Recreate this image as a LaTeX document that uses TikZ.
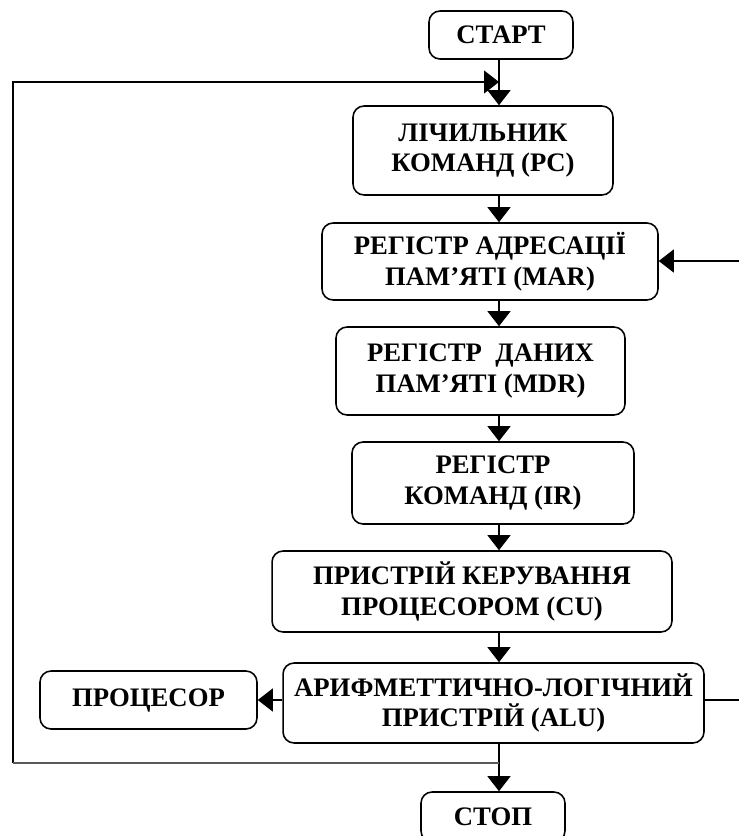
\documentclass[tikz,border=0pt]{standalone}
\usepackage{fontspec}
\setmainfont{Liberation Serif}
\usetikzlibrary{arrows.meta}
\tikzstyle{blk}=[draw,rounded corners=0.22cm,line width=0.9pt,align=center,inner sep=0,font=\bfseries\fontsize{15.2}{17.5}\selectfont]
\tikzstyle{arr}=[-{Triangle[length=0.3cm,width=0.46cm]},line width=0.6pt]

\begin{document}
\begin{tikzpicture}[x=0.02cm,y=-0.02cm]
	\useasboundingbox (0,0) rectangle (739,836);
	\clip (0,0) rectangle (739,836);

                        \node[blk,minimum width=2.88cm,minimum height=0.96cm] (st) at (501,35) {СТАРТ};
                        \node[blk,minimum width=5.2cm,minimum height=1.78cm] (pc) at (483,150.5) {ЛІЧИЛЬНИК\\КОМАНД (PC)};
                        \node[blk,minimum width=6.72cm,minimum height=1.54cm] (mar) at (490,261.5) {РЕГІСТР АДРЕСАЦІЇ\\ПАМ’ЯТІ (MAR)};
                        \node[blk,minimum width=5.78cm,minimum height=1.76cm] (mdr) at (480.5,371) {РЕГІСТР\ \ ДАНИХ\\ПАМ’ЯТІ (MDR)};
                        \node[blk,minimum width=5.64cm,minimum height=1.64cm] (ir) at (493,483) {РЕГІСТР\\КОМАНД (IR)};
                        \node[blk,minimum width=8.0cm,minimum height=1.62cm] (cu) at (472,591.5) {ПРИСТРІЙ КЕРУВАННЯ\\ПРОЦЕСОРОМ (CU)};
                        \node[blk,minimum width=8.42cm,minimum height=1.6cm] (alu) at (493.5,703) {АРИФМЕТТИЧНО-ЛОГІЧНИЙ\\ПРИСТРІЙ (ALU)};
                        \node[blk,minimum width=4.34cm,minimum height=1.16cm] (pr) at (148.5,700) {ПРОЦЕСОР};
                        \node[blk,minimum width=2.88cm,minimum height=1.0cm] (sp) at (493,817) {СТОП};

                        \coordinate (c1) at (499,82);
                        \coordinate (c2) at (499,763);
                        \coordinate (lt) at (13,82);
                        \coordinate (lb) at (13,763);
                        \coordinate (r1) at (739,261);
                        \coordinate (r2) at (739,700);

                        \draw[arr] (st.south -| c1) -- (pc.north -| c1);
                        \draw[arr] (pc.south -| c1) -- (mar.north -| c1);
                        \draw[arr] (mar.south -| c1) -- (mdr.north -| c1);
                        \draw[arr] (mdr.south -| c1) -- (ir.north -| c1);
                        \draw[arr] (ir.south -| c1) -- (cu.north -| c1);
                        \draw[arr] (cu.south -| c1) -- (alu.north -| c1);
                        \draw[arr] (alu.south -| c2) -- (sp.north -| c2);

                        \draw[arr] (alu.west |- pr) -- (pr.east);
                        \draw[arr] (r1) -- (r1 -| mar.east);
                        \draw[line width=0.6pt] (alu.east |- r2) -- (r2);

                        \draw[arr] (lb) -- (lt) -- (c1);
                        \draw[gray!70!black,line width=1.1pt] (c2) -- (lb);

    \end{tikzpicture}
\end{document}
